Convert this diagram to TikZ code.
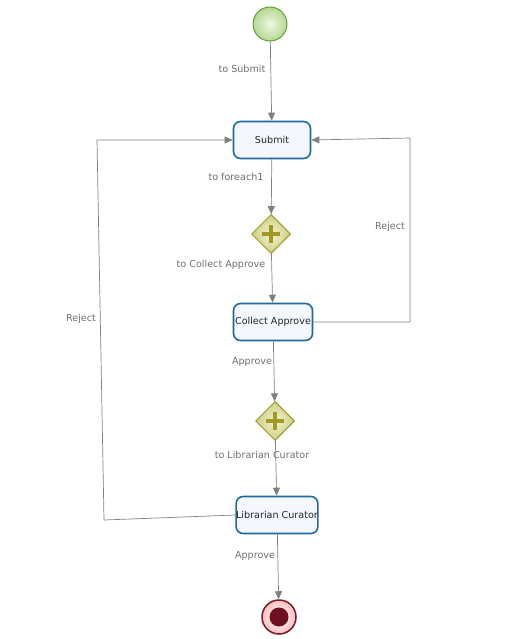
\documentclass[tikz,border=0pt]{standalone}
\usepackage{fontspec}
\setmainfont{DejaVu Sans}
\usetikzlibrary{shapes.geometric,arrows.meta}
\definecolor{taskblue}{HTML}{1F6A9C}
\definecolor{taskfill}{HTML}{F5F7FE}
\definecolor{flowgray}{HTML}{808080}
\definecolor{labelgray}{HTML}{6E6E6E}
\definecolor{gateolive}{HTML}{A09A22}
\definecolor{gatein}{HTML}{F4F4CE}
\definecolor{gateout}{HTML}{CDCD86}
\definecolor{startin}{HTML}{EEF7E4}
\definecolor{startout}{HTML}{B4D890}
\definecolor{startline}{HTML}{6C9A3C}
\definecolor{endline}{HTML}{7A1A26}
\definecolor{endcore}{HTML}{6E1020}
\begin{document}
\begin{tikzpicture}[x=1pt,y=-1pt,
           every node/.style = {font=\fontsize{9.6}{11}\selectfont},
           task/.style = {shape=rectangle, rounded corners=7pt, draw=taskblue,
             line width=1.6pt, fill=taskfill, minimum width=77pt,
             minimum height=37pt, inner sep=0pt, text=black!85},
           gate/.style = {shape=diamond, draw=gateolive, line width=1pt,
             inner color=gatein, outer color=gateout,
             minimum width=39pt, minimum height=39pt, inner sep=0pt},
           flow/.style = {draw=flowgray, line width=0.7pt,
             -{Triangle[length=8pt,width=7pt]}},
           flowlabel/.style = {text=labelgray}]
  \useasboundingbox (0,0) rectangle (509,639);
  % events
  \node[circle, draw=startline, line width=1pt, minimum size=34pt,
        inner color=startin, outer color=startout] (start) at (270,24) {};
  \node[circle, draw=endline, line width=1.5pt, minimum size=34pt,
        inner color=white, outer color=red!25!white] (end) at (279,617) {};
  \fill[endcore] (end.center) circle (9.5pt);
  % tasks and gateways
  \node[task] (submit) at (272,140) {Submit};
  \node[gate] (fork1) at (271,234) {};
  \node[task, minimum width=79pt] (collect) at (273,322) {Collect Approve};
  \node[gate] (fork2) at (275,421) {};
  \node[task, minimum width=79pt] (curator) at (277,515) {Librarian Curator};
  \foreach \g in {fork1,fork2}
    \draw[gateolive, line width=4.4pt] ([yshift=-9pt]\g.center) -- ([yshift=9pt]\g.center)
      ([xshift=-9pt]\g.center) -- ([xshift=9pt]\g.center);
  % flows
  \draw[flow] (start) -- (submit);
  \draw[flow] (submit) -- (fork1);
  \draw[flow] (fork1) -- (collect);
  \draw[flow] (collect) -- (fork2);
  \draw[flow] (fork2) -- (curator);
  \draw[flow] (curator) -- (end);
  \coordinate (rtop) at (410,138);
  \coordinate (rbot) at (410,322);
  \draw[flow] (collect.east) -- (rbot) -- (rtop) -- (submit.east);
  \coordinate (ltop) at (97,140);
  \coordinate (lbot) at (104,520);
  \draw[flow] (curator.west) -- (lbot) -- (ltop) -- (submit.west);
  % labels
  \node[flowlabel] (l1) at (242,69) {to Submit};
  \node[flowlabel] (l2) at (236,177) {to foreach1};
  \node[flowlabel] (l3) at (221,265) {to Collect Approve};
  \node[flowlabel] (l4) at (252,362) {Approve};
  \node[flowlabel] (l5) at (262,455) {to Librarian Curator};
  \node[flowlabel] (l6) at (255,556) {Approve};
  \node[flowlabel] (l7) at (390,227) {Reject};
  \node[flowlabel] (l8) at (81,319) {Reject};
\end{tikzpicture}
\end{document}
